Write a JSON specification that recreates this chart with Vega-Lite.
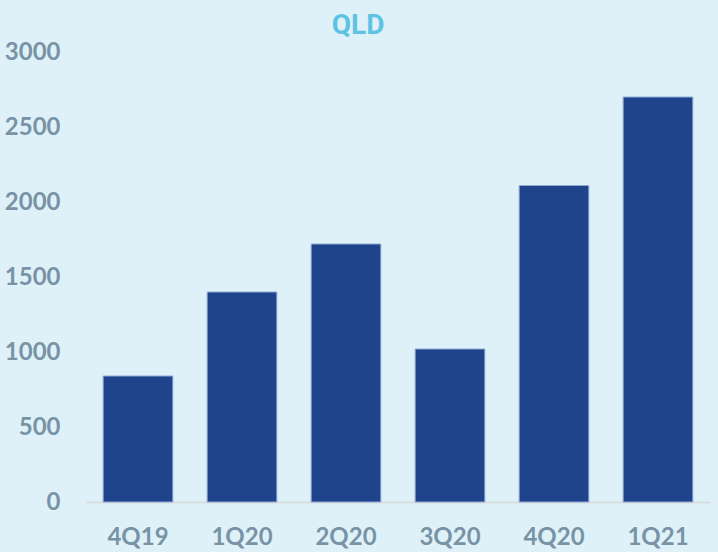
{
  "$schema": "https://vega.github.io/schema/vega-lite/v6.json",
  "width": 624,
  "height": 450,
  "autosize": {"type": "none"},
  "padding": {"left": 86, "top": 52, "right": 8, "bottom": 50},
  "background": "#dff1f8",
  "title": {
    "text": "QLD",
    "font": "Roboto",
    "fontWeight": "bold",
    "fontSize": 28,
    "color": "#5ec3e3",
    "anchor": "middle",
    "dx": -40,
    "offset": 0
  },
  "data": {
    "values": [
      {"quarter": "4Q19", "value": 840},
      {"quarter": "1Q20", "value": 1400},
      {"quarter": "2Q20", "value": 1720},
      {"quarter": "3Q20", "value": 1020},
      {"quarter": "4Q20", "value": 2110},
      {"quarter": "1Q21", "value": 2700}
    ]
  },
  "mark": {"type": "bar", "color": "#1f448c", "stroke": "#8ea9d3", "strokeWidth": 1},
  "encoding": {
    "x": {
      "field": "quarter",
      "type": "nominal",
      "sort": null,
      "scale": {"paddingInner": 0.33, "paddingOuter": 0.165},
      "axis": {
        "title": null,
        "labelAngle": 0,
        "labelFont": "Lato",
        "labelFontWeight": "bold",
        "labelFontSize": 24,
        "labelColor": "#7893a6",
        "labelPadding": 23,
        "ticks": false,
        "domainColor": "#d9dde0",
        "domainWidth": 2
      }
    },
    "y": {
      "field": "value",
      "type": "quantitative",
      "scale": {"domain": [0, 3000]},
      "axis": {
        "title": null,
        "values": [0, 500, 1000, 1500, 2000, 2500, 3000],
        "format": "d",
        "grid": false,
        "domain": false,
        "ticks": false,
        "labelFont": "Lato",
        "labelFontWeight": "bold",
        "labelFontSize": 24,
        "labelColor": "#7893a6",
        "labelPadding": 26
      }
    }
  },
  "config": {"view": {"stroke": null}}
}
